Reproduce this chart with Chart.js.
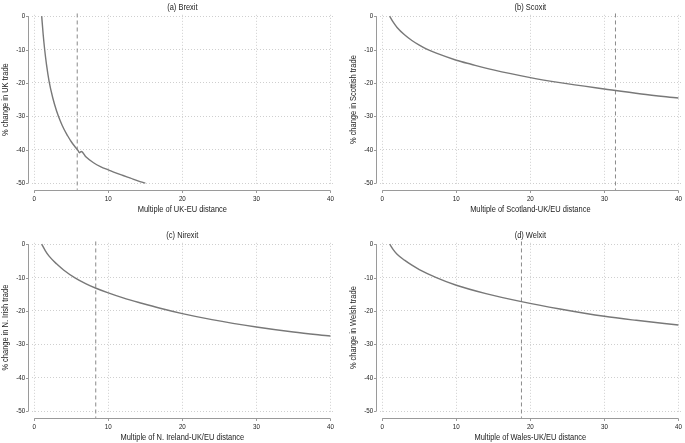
<!DOCTYPE html>
<html><head><meta charset="utf-8">
<script src="https://cdn.jsdelivr.net/npm/chart.js@4"></script>
<style>
html,body{margin:0;padding:0;background:#fff;overflow:hidden;}
#wrap{position:relative;width:685px;height:443px;background:#fff;}
canvas{position:absolute;}
</style></head><body><div id="wrap">
<canvas id="ca" width="337" height="216" style="left:0;top:0"></canvas>
<canvas id="cb" width="337" height="216" style="left:348px;top:0"></canvas>
<canvas id="cc" width="337" height="216" style="left:0;top:228px"></canvas>
<canvas id="cd" width="337" height="216" style="left:348px;top:228px"></canvas>
</div>
<script>
// Tick labels
const xTicks = [0, 10, 20, 30, 40];
const yTicks = [0, -10, -20, -30, -40, -50];

// (a) Brexit
const brexitX = [1, 1.2, 1.4, 1.65, 2, 2.5, 3, 3.5, 4, 4.5, 5, 5.5, 5.9, 6.1, 6.35, 7, 8, 9, 10, 11, 12, 13, 14, 15];
const brexitY = [0, -5.5, -10, -14.5, -19.5, -24.5, -28.3, -31.3, -33.8, -35.8, -37.6, -39.1, -40.2, -40.9, -40.5, -42.2, -43.9, -45.1, -46.0, -46.9, -47.7, -48.5, -49.3, -50];
const brexitRef = 5.8;

// (b) Scoxit
const scoxitX = [1, 1.5, 2, 3, 4, 5, 6, 7.3, 10, 12, 15, 20, 24, 30, 35, 40];
const scoxitY = [0, -1.9, -3.4, -5.6, -7.3, -8.7, -9.9, -11.1, -13.2, -14.4, -16.1, -18.4, -19.9, -21.8, -23.3, -24.5];
const scoxitRef = 31.5;

// (c) Nirexit
const nirexitX = [1, 1.5, 2, 3, 4, 5.5, 7, 8.34, 10, 12, 14.5, 17, 20, 24, 30, 35, 40];
const nirexitY = [0, -2.0, -3.6, -5.9, -7.8, -10.1, -11.9, -13.2, -14.6, -16.1, -17.7, -19.2, -20.8, -22.6, -24.8, -26.3, -27.5];
const nirexitRef = 8.3;

// (d) Welxit
const welxitX = [1, 1.5, 2, 3, 4, 5, 7.3, 10, 14, 18.8, 24, 30, 34.3, 40];
const welxitY = [0, -1.7, -3.0, -4.8, -6.3, -7.6, -10.0, -12.3, -14.8, -17.2, -19.4, -21.6, -22.8, -24.2];
const welxitRef = 18.8;

const FONT = "'Liberation Sans', Arial, sans-serif";
const NARROW = 0.83;   // horizontal squeeze to mimic a narrow sans face
const TXT = '#222222';
const CURVE = '#787878';
const DASH = '#8a8a8a';
const GRID = '#cfcfcf';
const AXIS = '#9a9a9a';

const stataAxes = {
  id: 'stataAxes',
  afterDraw(chart) {
    const {ctx, chartArea, scales: {x, y}} = chart;
    ctx.save();
    ctx.strokeStyle = AXIS;
    ctx.lineWidth = 1;
    ctx.setLineDash([]);
    const ax = Math.round(chartArea.left - 3) - 0.5;
    const yA = y.getPixelForValue(yTicks[0]);
    const yB = y.getPixelForValue(yTicks[yTicks.length - 1]);
    ctx.beginPath();
    ctx.moveTo(ax, yA); ctx.lineTo(ax, yB);
    yTicks.forEach(v => { const p = Math.round(y.getPixelForValue(v)) + 0.5; ctx.moveTo(ax - 2.5, p); ctx.lineTo(ax, p); });
    const ay = Math.round(chartArea.bottom + 5) + 0.5;
    ctx.moveTo(x.getPixelForValue(xTicks[0]), ay);
    ctx.lineTo(x.getPixelForValue(xTicks[xTicks.length - 1]), ay);
    xTicks.forEach(v => { const p = Math.round(x.getPixelForValue(v)) + 0.5; ctx.moveTo(p, ay); ctx.lineTo(p, ay + 2.5); });
    ctx.stroke();
    ctx.restore();
  }
};

function narrowText(ctx) {
  const orig = ctx.fillText.bind(ctx);
  ctx.fillText = function (text, px, py, maxWidth) {
    const w = ctx.measureText(text).width * NARROW;
    const m = (maxWidth !== undefined && maxWidth !== null) ? Math.min(maxWidth, w) : w;
    return orig(text, px, py, m);
  };
}

function makeChart(id, title, xTitle, yTitle, xs, ys, ref) {
  const el = document.getElementById(id);
  narrowText(el.getContext('2d'));
  new Chart(el, {
    type: 'line',
    data: {
      datasets: [
        {
          data: xs.map((x, i) => ({x: x, y: ys[i]})),
          borderColor: CURVE, borderWidth: 1.4, pointRadius: 0,
          cubicInterpolationMode: 'monotone', fill: false
        },
        {
          data: [{x: ref, y: 0.8}, {x: ref, y: -52}],
          borderColor: DASH, borderWidth: 1, borderDash: [4, 3], pointRadius: 0,
          fill: false, clip: false
        }
      ]
    },
    options: {
      responsive: false, animation: false, devicePixelRatio: 1,
      layout: {padding: {left: 0, right: 4, top: 0, bottom: 0}},
      plugins: {
        legend: {display: false}, tooltip: {enabled: false},
        title: {
          display: true, text: title, fullSize: false, color: TXT,
          font: {family: FONT, size: 9, weight: 'normal'},
          padding: {top: 2, bottom: 2}
        }
      },
      scales: {
        x: {
          type: 'linear', min: -0.35, max: 40.35,
          afterBuildTicks: s => { s.ticks = xTicks.map(v => ({value: v})); },
          afterFit: s => { s.height = 31.5; s.paddingLeft = 0; s.paddingRight = 0; },
          grid: {color: GRID, lineWidth: 1, drawTicks: false},
          border: {display: false, dash: [1, 2]},
          ticks: {color: TXT, font: {family: FONT, size: 7.5}, padding: 10, maxRotation: 0, autoSkip: false, callback: v => String(v)},
          title: {display: true, text: xTitle, color: TXT, font: {family: FONT, size: 9}, padding: {top: 0, bottom: 0.6}}
        },
        y: {
          type: 'linear', min: -50.4, max: 0.4,
          afterBuildTicks: s => { s.ticks = yTicks.map(v => ({value: v})); },
          afterFit: s => { s.width = 31.7; s.paddingTop = 0; s.paddingBottom = 0; },
          grid: {color: GRID, lineWidth: 1, drawTicks: false},
          border: {display: false, dash: [1, 2]},
          ticks: {color: TXT, font: {family: FONT, size: 7.5}, padding: 6.5, autoSkip: false, callback: v => String(v)},
          title: {display: true, text: yTitle, color: TXT, font: {family: FONT, size: 9}, padding: {top: 0, bottom: 0}}
        }
      }
    },
    plugins: [stataAxes]
  });
}

makeChart('ca', '(a) Brexit', 'Multiple of UK-EU distance', '% change in UK trade', brexitX, brexitY, brexitRef);
makeChart('cb', '(b) Scoxit', 'Multiple of Scotland-UK/EU distance', '% change in Scottish trade', scoxitX, scoxitY, scoxitRef);
makeChart('cc', '(c) Nirexit', 'Multiple of N. Ireland-UK/EU distance', '% change in N. Irish trade', nirexitX, nirexitY, nirexitRef);
makeChart('cd', '(d) Welxit', 'Multiple of Wales-UK/EU distance', '% change in Welsh trade', welxitX, welxitY, welxitRef);
</script>
</body></html>
